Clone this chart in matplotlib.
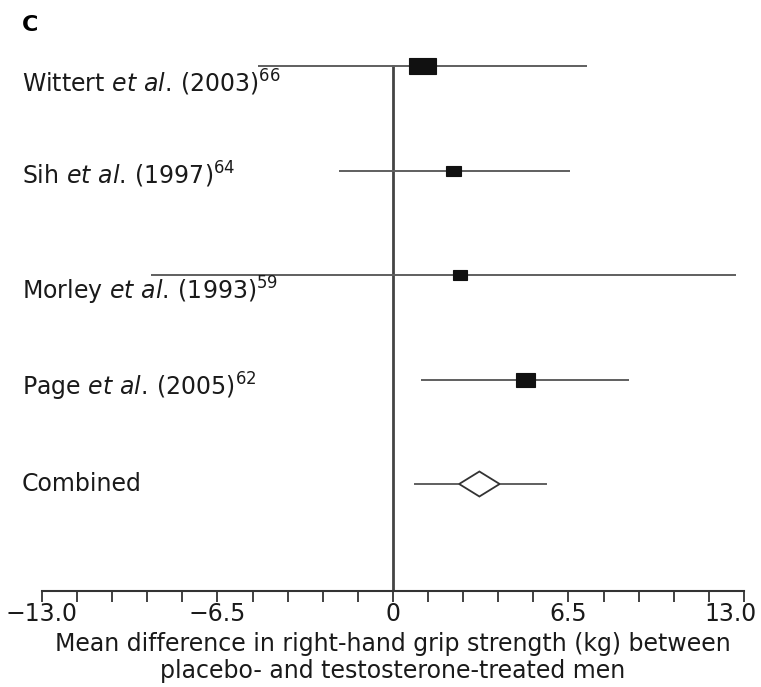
import matplotlib
matplotlib.use("Agg")
import matplotlib.pyplot as plt
from matplotlib.patches import Rectangle, Polygon
import matplotlib.transforms as mtransforms
import numpy as np

plt.rcParams['font.family'] = ['DejaVu Sans']
plt.rcParams['mathtext.fontset'] = 'custom'
plt.rcParams['mathtext.rm'] = 'DejaVu Sans'
plt.rcParams['mathtext.it'] = 'DejaVu Sans:italic'

# ---- data ----
studies = ["Wittert", "Sih", "Morley", "Page"]
years = ["2003", "1997", "1993", "2005"]
refs = ["66", "64", "59", "62"]
means = [1.1, 2.25, 2.5, 4.9]
lower = [-5.0, -2.0, -8.95, 1.05]
upper = [7.2, 6.55, 12.7, 8.75]
box_px = [(27, 16), (15, 10), (14, 10), (19, 14)]   # box width/height in pixels (style)
label_off = [17, 4, 16, 7]                          # label offset below line in pixels (style)

comb_mean = 3.2
comb_ci = (2.45, 3.95)
comb_whisk = (0.8, 5.65)

major_ticks = [-13.0, -6.5, 0, 6.5, 13.0]
major_labels = ["\u221213.0", "\u22126.5", "0", "6.5", "13.0"]
minor_step = 1.3

W, H = 761, 687
fig = plt.figure(figsize=(W / 100, H / 100), dpi=100)
ax_left, ax_right = 42 / W, 744 / W
ax_bottom = (H - 591) / H
ax_top = (H - 2) / H
ax = fig.add_axes([ax_left, ax_bottom, ax_right - ax_left, ax_top - ax_bottom])

row_px = 104.5
top_px = 66
bot_ext = (591 - top_px) / row_px
ax.set_xlim(-13, 13)
ax.set_ylim(bot_ext, -(top_px - 2) / row_px)

# pixel -> data scale
xscale = 26 / (744 - 42)
yscale = 1 / row_px

line_col = "#5f5f5f"
ys = list(range(len(studies)))
for y, m, lo, hi, (bw, bh) in zip(ys, means, lower, upper, box_px):
    ax.plot([lo, hi], [y, y], color=line_col, lw=1.4, solid_capstyle='butt', zorder=2)
    w, h = bw * xscale, bh * yscale
    ax.add_patch(Rectangle((m - w / 2, y - h / 2), w, h, facecolor="#111111",
                           edgecolor="#111111", lw=0.8, zorder=3))

yc = len(studies)
ax.plot([comb_whisk[0], comb_whisk[1]], [yc, yc], color=line_col, lw=1.4, zorder=2)
dh = 12.5 * yscale
ax.add_patch(Polygon([[comb_ci[0], yc], [comb_mean, yc - dh], [comb_ci[1], yc], [comb_mean, yc + dh]],
                     closed=True, facecolor="white", edgecolor="#333333", lw=1.3, zorder=3))

# zero line
ax.plot([0, 0], [0, bot_ext], color="#444444", lw=2, zorder=1)

# labels
trans = mtransforms.blended_transform_factory(fig.transFigure, ax.transData)
for y, s, yr, rf, off in zip(ys, studies, years, refs, label_off):
    txt = r"$\mathrm{" + s + r"}\ \mathit{et\ al.}\,\mathrm{(" + yr + ")}^{" + rf + "}$"
    ax.text(22 / W, y + off * yscale, txt, transform=trans, ha='left', va='center',
            fontsize=17, color="#1a1a1a")
ax.text(22 / W, yc, "Combined", transform=trans, ha='left', va='center', fontsize=17, color="#1a1a1a")

# panel letter
fig.text(22 / W, 1 - 25 / H, "C", fontsize=16, fontweight='bold', ha='left', va='center')

# axes styling
for sp in ['top', 'right', 'left']:
    ax.spines[sp].set_visible(False)
ax.spines['bottom'].set_linewidth(1.5)
ax.spines['bottom'].set_color("#333333")
ax.set_yticks([])
ax.set_xticks(major_ticks)
ax.set_xticklabels(major_labels, fontsize=17, color="#1a1a1a")
ax.set_xticks(np.arange(-13, 13.0001, minor_step), minor=True)
ax.tick_params(axis='x', which='both', direction='out', length=8, width=1.3, color="#333333", pad=0)
lab = ax.get_xticklabels()[-1]
lab.set_transform(lab.get_transform() + mtransforms.ScaledTranslation(-13 / 100, 0, fig.dpi_scale_trans))
ax.set_xlabel("Mean difference in right-hand grip strength (kg) between\nplacebo- and testosterone-treated men",
              fontsize=17, color="#1a1a1a", labelpad=4, linespacing=1.15)

fig.savefig("out.png", dpi=100)
